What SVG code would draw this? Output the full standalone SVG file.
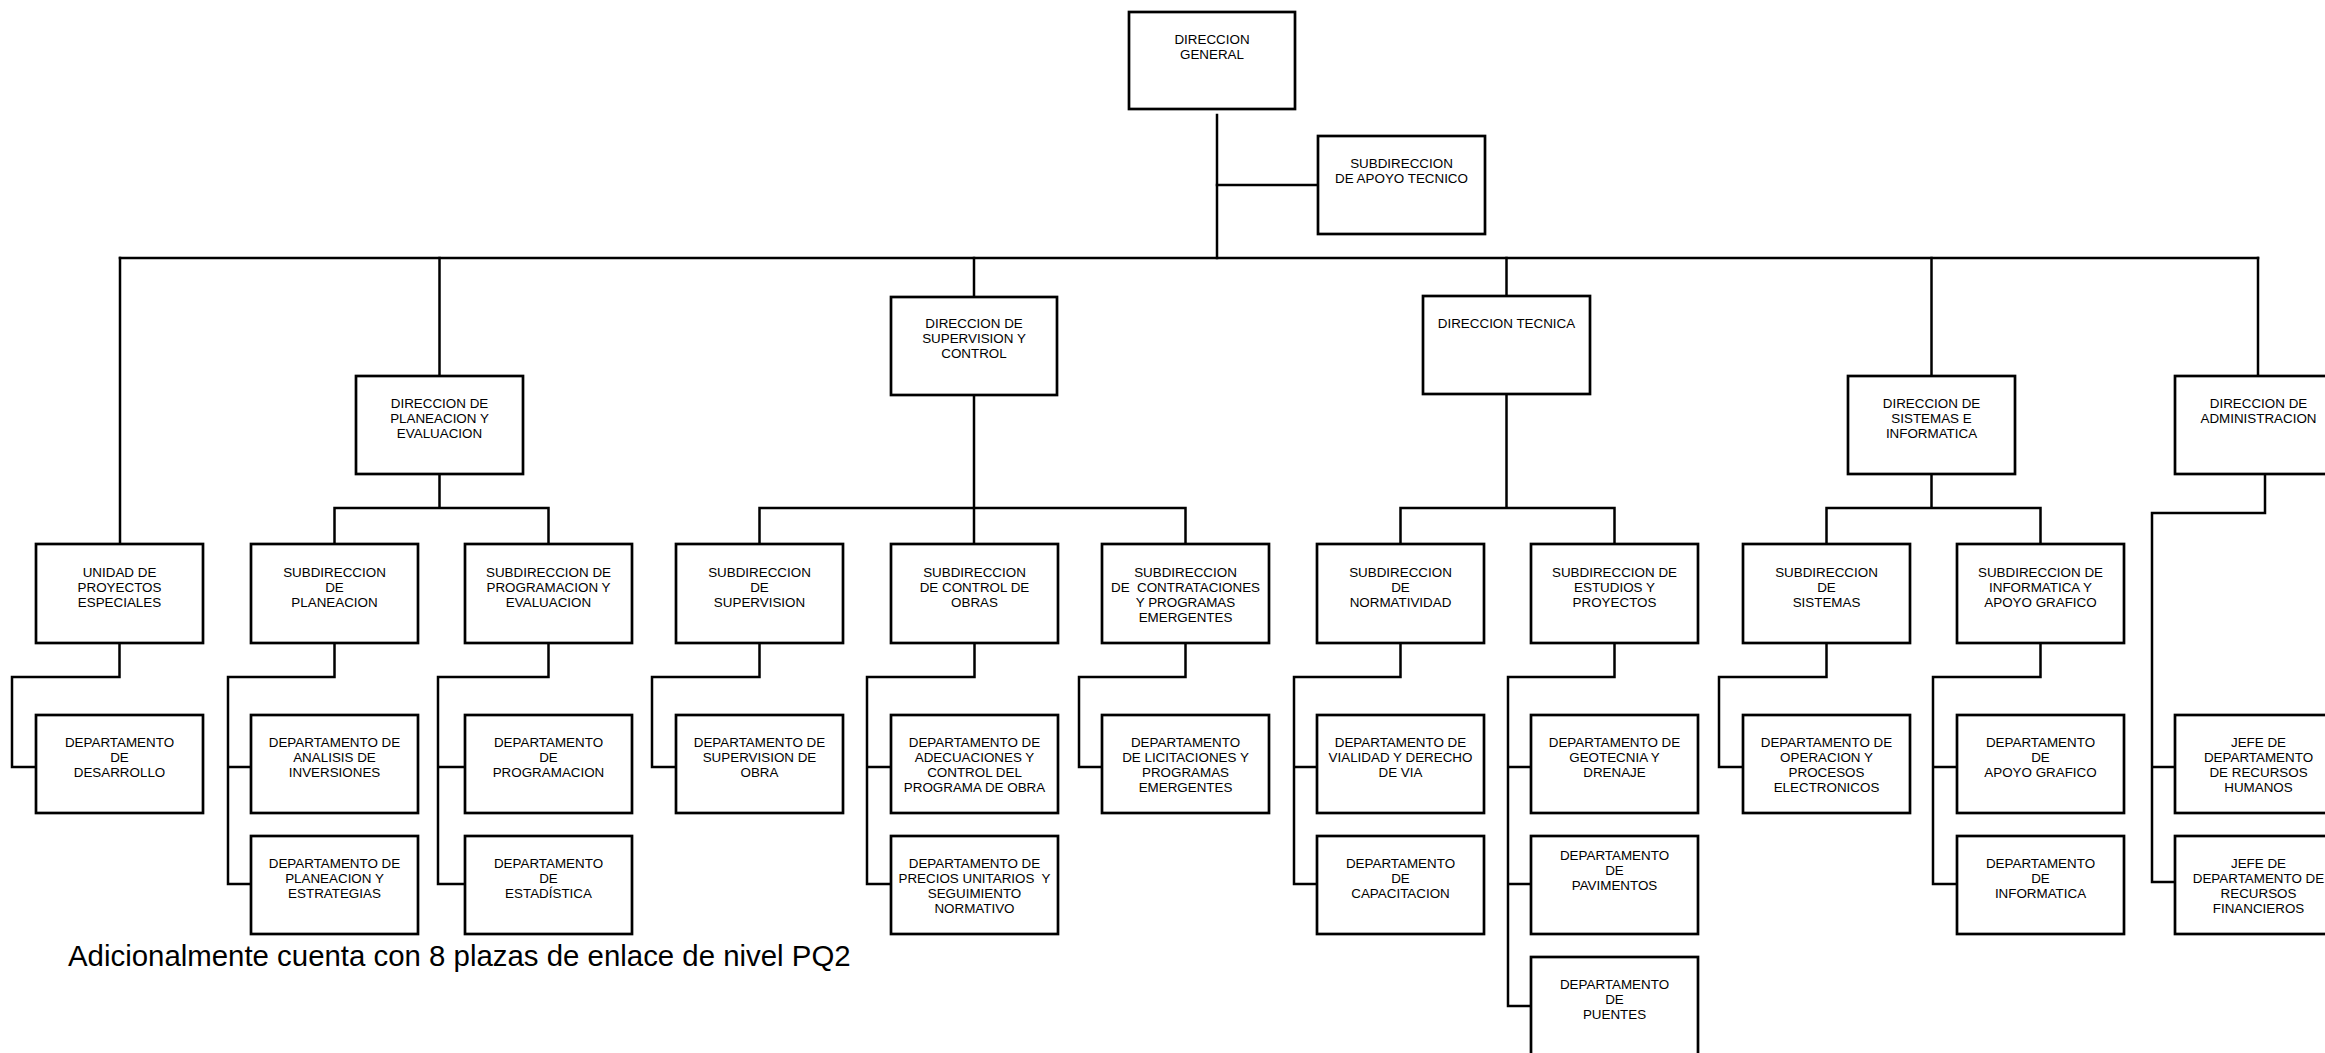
<svg xmlns="http://www.w3.org/2000/svg" width="2325" height="1053" viewBox="0 0 2325 1053">
<style>
  .box { fill: #ffffff; stroke: #000000; stroke-width: 2.7; }
  .lbl { font-family: "Liberation Sans", Arial, sans-serif; font-size: 13.4px; fill: #000000; text-anchor: middle; }
  .note { font-family: "Liberation Sans", Arial, sans-serif; font-size: 29.4px; fill: #000000; }
  .conn { fill: none; stroke: #000000; stroke-width: 2.5; stroke-linejoin: miter; stroke-linecap: square; }
</style>
<rect width="2325" height="1053" fill="#ffffff"/>

<g id="connectors">
  <path class="conn" d="M1217,115 V258"/>
  <path class="conn" d="M1217,185 H1318"/>
  <path class="conn" d="M120,258 H2258"/>
  <path class="conn" d="M120,258 V544"/>
  <path class="conn" d="M439.5,258 V376"/>
  <path class="conn" d="M974,258 V297"/>
  <path class="conn" d="M1506.5,258 V296"/>
  <path class="conn" d="M1931.5,258 V376"/>
  <path class="conn" d="M2258,258 V376"/>
  <path class="conn" d="M439.5,474 V508 M334.5,544 V508 H548.5 V544"/>
  <path class="conn" d="M974,395 V544 M759.5,544 V508 H1185.5 V544"/>
  <path class="conn" d="M1506.5,394 V508 M1400.5,544 V508 H1614.5 V544"/>
  <path class="conn" d="M1931.5,474 V508 M1826.5,544 V508 H2040.5 V544"/>
  <path class="conn" d="M2265,474 V513 H2152 V882 H2175 M2152,767 H2175"/>
  <path class="conn" d="M119.5,643 V677 H12 V767 H36"/>
  <path class="conn" d="M334.5,643 V677 H228 V884 H251 M228,767 H251"/>
  <path class="conn" d="M548.5,643 V677 H438 V884 H465 M438,767 H465"/>
  <path class="conn" d="M759.5,643 V677 H652 V767 H676"/>
  <path class="conn" d="M974.5,643 V677 H867 V884 H891 M867,767 H891"/>
  <path class="conn" d="M1185.5,643 V677 H1079 V767 H1102"/>
  <path class="conn" d="M1400.5,643 V677 H1294 V884 H1317 M1294,767 H1317"/>
  <path class="conn" d="M1614.5,643 V677 H1508 V1006 H1531 M1508,767 H1531 M1508,884 H1531"/>
  <path class="conn" d="M1826.5,643 V677 H1719 V767 H1743"/>
  <path class="conn" d="M2040.5,643 V677 H1933 V884 H1957 M1933,767 H1957"/>
</g>

<g id="direccion-general">
  <rect class="box" x="1129" y="12" width="166" height="97"/>
  <text class="lbl" x="1212" y="44"><tspan x="1212">DIRECCION</tspan><tspan x="1212" dy="15">GENERAL</tspan></text>
</g>
<g id="subdireccion-apoyo-tecnico">
  <rect class="box" x="1318" y="136" width="167" height="98"/>
  <text class="lbl" x="1401.5" y="168"><tspan x="1401.5">SUBDIRECCION</tspan><tspan x="1401.5" dy="15">DE APOYO TECNICO</tspan></text>
</g>
<g id="direccion-planeacion">
  <rect class="box" x="356" y="376" width="167" height="98"/>
  <text class="lbl" x="439.5" y="408"><tspan x="439.5">DIRECCION DE</tspan><tspan x="439.5" dy="15">PLANEACION Y</tspan><tspan x="439.5" dy="15">EVALUACION</tspan></text>
</g>
<g id="direccion-supervision">
  <rect class="box" x="891" y="297" width="166" height="98"/>
  <text class="lbl" x="974" y="328"><tspan x="974">DIRECCION DE</tspan><tspan x="974" dy="15">SUPERVISION Y</tspan><tspan x="974" dy="15">CONTROL</tspan></text>
</g>
<g id="direccion-tecnica">
  <rect class="box" x="1423" y="296" width="167" height="98"/>
  <text class="lbl" x="1506.5" y="328">DIRECCION TECNICA</text>
</g>
<g id="direccion-sistemas">
  <rect class="box" x="1848" y="376" width="167" height="98"/>
  <text class="lbl" x="1931.5" y="408"><tspan x="1931.5">DIRECCION DE</tspan><tspan x="1931.5" dy="15">SISTEMAS E</tspan><tspan x="1931.5" dy="15">INFORMATICA</tspan></text>
</g>
<g id="direccion-administracion">
  <rect class="box" x="2175" y="376" width="167" height="98"/>
  <text class="lbl" x="2258.5" y="408"><tspan x="2258.5">DIRECCION DE</tspan><tspan x="2258.5" dy="15">ADMINISTRACION</tspan></text>
</g>

<g id="unidad-proyectos-especiales">
  <rect class="box" x="36" y="544" width="167" height="99"/>
  <text class="lbl" x="119.5" y="577"><tspan x="119.5">UNIDAD DE</tspan><tspan x="119.5" dy="15">PROYECTOS</tspan><tspan x="119.5" dy="15">ESPECIALES</tspan></text>
</g>
<g id="subdireccion-planeacion">
  <rect class="box" x="251" y="544" width="167" height="99"/>
  <text class="lbl" x="334.5" y="577"><tspan x="334.5">SUBDIRECCION</tspan><tspan x="334.5" dy="15">DE</tspan><tspan x="334.5" dy="15">PLANEACION</tspan></text>
</g>
<g id="subdireccion-programacion">
  <rect class="box" x="465" y="544" width="167" height="99"/>
  <text class="lbl" x="548.5" y="577"><tspan x="548.5">SUBDIRECCION DE</tspan><tspan x="548.5" dy="15">PROGRAMACION Y</tspan><tspan x="548.5" dy="15">EVALUACION</tspan></text>
</g>
<g id="subdireccion-supervision">
  <rect class="box" x="676" y="544" width="167" height="99"/>
  <text class="lbl" x="759.5" y="577"><tspan x="759.5">SUBDIRECCION</tspan><tspan x="759.5" dy="15">DE</tspan><tspan x="759.5" dy="15">SUPERVISION</tspan></text>
</g>
<g id="subdireccion-control-obras">
  <rect class="box" x="891" y="544" width="167" height="99"/>
  <text class="lbl" x="974.5" y="577"><tspan x="974.5">SUBDIRECCION</tspan><tspan x="974.5" dy="15">DE CONTROL DE</tspan><tspan x="974.5" dy="15">OBRAS</tspan></text>
</g>
<g id="subdireccion-contrataciones">
  <rect class="box" x="1102" y="544" width="167" height="99"/>
  <text class="lbl" x="1185.5" y="577" xml:space="preserve"><tspan x="1185.5">SUBDIRECCION</tspan><tspan x="1185.5" dy="15">DE  CONTRATACIONES</tspan><tspan x="1185.5" dy="15">Y PROGRAMAS</tspan><tspan x="1185.5" dy="15">EMERGENTES</tspan></text>
</g>
<g id="subdireccion-normatividad">
  <rect class="box" x="1317" y="544" width="167" height="99"/>
  <text class="lbl" x="1400.5" y="577"><tspan x="1400.5">SUBDIRECCION</tspan><tspan x="1400.5" dy="15">DE</tspan><tspan x="1400.5" dy="15">NORMATIVIDAD</tspan></text>
</g>
<g id="subdireccion-estudios">
  <rect class="box" x="1531" y="544" width="167" height="99"/>
  <text class="lbl" x="1614.5" y="577"><tspan x="1614.5">SUBDIRECCION DE</tspan><tspan x="1614.5" dy="15">ESTUDIOS Y</tspan><tspan x="1614.5" dy="15">PROYECTOS</tspan></text>
</g>
<g id="subdireccion-sistemas">
  <rect class="box" x="1743" y="544" width="167" height="99"/>
  <text class="lbl" x="1826.5" y="577"><tspan x="1826.5">SUBDIRECCION</tspan><tspan x="1826.5" dy="15">DE</tspan><tspan x="1826.5" dy="15">SISTEMAS</tspan></text>
</g>
<g id="subdireccion-informatica">
  <rect class="box" x="1957" y="544" width="167" height="99"/>
  <text class="lbl" x="2040.5" y="577"><tspan x="2040.5">SUBDIRECCION DE</tspan><tspan x="2040.5" dy="15">INFORMATICA Y</tspan><tspan x="2040.5" dy="15">APOYO GRAFICO</tspan></text>
</g>

<g id="depto-desarrollo">
  <rect class="box" x="36" y="715" width="167" height="98"/>
  <text class="lbl" x="119.5" y="747"><tspan x="119.5">DEPARTAMENTO</tspan><tspan x="119.5" dy="15">DE</tspan><tspan x="119.5" dy="15">DESARROLLO</tspan></text>
</g>
<g id="depto-analisis-inversiones">
  <rect class="box" x="251" y="715" width="167" height="98"/>
  <text class="lbl" x="334.5" y="747"><tspan x="334.5">DEPARTAMENTO DE</tspan><tspan x="334.5" dy="15">ANALISIS DE</tspan><tspan x="334.5" dy="15">INVERSIONES</tspan></text>
</g>
<g id="depto-planeacion-estrategias">
  <rect class="box" x="251" y="836" width="167" height="98"/>
  <text class="lbl" x="334.5" y="868"><tspan x="334.5">DEPARTAMENTO DE</tspan><tspan x="334.5" dy="15">PLANEACION Y</tspan><tspan x="334.5" dy="15">ESTRATEGIAS</tspan></text>
</g>
<g id="depto-programacion">
  <rect class="box" x="465" y="715" width="167" height="98"/>
  <text class="lbl" x="548.5" y="747"><tspan x="548.5">DEPARTAMENTO</tspan><tspan x="548.5" dy="15">DE</tspan><tspan x="548.5" dy="15">PROGRAMACION</tspan></text>
</g>
<g id="depto-estadistica">
  <rect class="box" x="465" y="836" width="167" height="98"/>
  <text class="lbl" x="548.5" y="868"><tspan x="548.5">DEPARTAMENTO</tspan><tspan x="548.5" dy="15">DE</tspan><tspan x="548.5" dy="15">ESTADÍSTICA</tspan></text>
</g>
<g id="depto-supervision-obra">
  <rect class="box" x="676" y="715" width="167" height="98"/>
  <text class="lbl" x="759.5" y="747"><tspan x="759.5">DEPARTAMENTO DE</tspan><tspan x="759.5" dy="15">SUPERVISION DE</tspan><tspan x="759.5" dy="15">OBRA</tspan></text>
</g>
<g id="depto-adecuaciones">
  <rect class="box" x="891" y="715" width="167" height="98"/>
  <text class="lbl" x="974.5" y="747"><tspan x="974.5">DEPARTAMENTO DE</tspan><tspan x="974.5" dy="15">ADECUACIONES Y</tspan><tspan x="974.5" dy="15">CONTROL DEL</tspan><tspan x="974.5" dy="15">PROGRAMA DE OBRA</tspan></text>
</g>
<g id="depto-precios-unitarios">
  <rect class="box" x="891" y="836" width="167" height="98"/>
  <text class="lbl" x="974.5" y="868" xml:space="preserve"><tspan x="974.5">DEPARTAMENTO DE</tspan><tspan x="974.5" dy="15">PRECIOS UNITARIOS  Y</tspan><tspan x="974.5" dy="15">SEGUIMIENTO</tspan><tspan x="974.5" dy="15">NORMATIVO</tspan></text>
</g>
<g id="depto-licitaciones">
  <rect class="box" x="1102" y="715" width="167" height="98"/>
  <text class="lbl" x="1185.5" y="747"><tspan x="1185.5">DEPARTAMENTO</tspan><tspan x="1185.5" dy="15">DE LICITACIONES Y</tspan><tspan x="1185.5" dy="15">PROGRAMAS</tspan><tspan x="1185.5" dy="15">EMERGENTES</tspan></text>
</g>
<g id="depto-vialidad">
  <rect class="box" x="1317" y="715" width="167" height="98"/>
  <text class="lbl" x="1400.5" y="747"><tspan x="1400.5">DEPARTAMENTO DE</tspan><tspan x="1400.5" dy="15">VIALIDAD Y DERECHO</tspan><tspan x="1400.5" dy="15">DE VIA</tspan></text>
</g>
<g id="depto-capacitacion">
  <rect class="box" x="1317" y="836" width="167" height="98"/>
  <text class="lbl" x="1400.5" y="868"><tspan x="1400.5">DEPARTAMENTO</tspan><tspan x="1400.5" dy="15">DE</tspan><tspan x="1400.5" dy="15">CAPACITACION</tspan></text>
</g>
<g id="depto-geotecnia">
  <rect class="box" x="1531" y="715" width="167" height="98"/>
  <text class="lbl" x="1614.5" y="747"><tspan x="1614.5">DEPARTAMENTO DE</tspan><tspan x="1614.5" dy="15">GEOTECNIA Y</tspan><tspan x="1614.5" dy="15">DRENAJE</tspan></text>
</g>
<g id="depto-pavimentos">
  <rect class="box" x="1531" y="836" width="167" height="98"/>
  <text class="lbl" x="1614.5" y="860"><tspan x="1614.5">DEPARTAMENTO</tspan><tspan x="1614.5" dy="15">DE</tspan><tspan x="1614.5" dy="15">PAVIMENTOS</tspan></text>
</g>
<g id="depto-puentes">
  <rect class="box" x="1531" y="957" width="167" height="98"/>
  <text class="lbl" x="1614.5" y="989"><tspan x="1614.5">DEPARTAMENTO</tspan><tspan x="1614.5" dy="15">DE</tspan><tspan x="1614.5" dy="15">PUENTES</tspan></text>
</g>
<g id="depto-operacion">
  <rect class="box" x="1743" y="715" width="167" height="98"/>
  <text class="lbl" x="1826.5" y="747"><tspan x="1826.5">DEPARTAMENTO DE</tspan><tspan x="1826.5" dy="15">OPERACION Y</tspan><tspan x="1826.5" dy="15">PROCESOS</tspan><tspan x="1826.5" dy="15">ELECTRONICOS</tspan></text>
</g>
<g id="depto-apoyo-grafico">
  <rect class="box" x="1957" y="715" width="167" height="98"/>
  <text class="lbl" x="2040.5" y="747"><tspan x="2040.5">DEPARTAMENTO</tspan><tspan x="2040.5" dy="15">DE</tspan><tspan x="2040.5" dy="15">APOYO GRAFICO</tspan></text>
</g>
<g id="depto-informatica">
  <rect class="box" x="1957" y="836" width="167" height="98"/>
  <text class="lbl" x="2040.5" y="868"><tspan x="2040.5">DEPARTAMENTO</tspan><tspan x="2040.5" dy="15">DE</tspan><tspan x="2040.5" dy="15">INFORMATICA</tspan></text>
</g>
<g id="jefe-recursos-humanos">
  <rect class="box" x="2175" y="715" width="167" height="98"/>
  <text class="lbl" x="2258.5" y="747"><tspan x="2258.5">JEFE DE</tspan><tspan x="2258.5" dy="15">DEPARTAMENTO</tspan><tspan x="2258.5" dy="15">DE RECURSOS</tspan><tspan x="2258.5" dy="15">HUMANOS</tspan></text>
</g>
<g id="jefe-recursos-financieros">
  <rect class="box" x="2175" y="836" width="167" height="98"/>
  <text class="lbl" x="2258.5" y="868"><tspan x="2258.5">JEFE DE</tspan><tspan x="2258.5" dy="15">DEPARTAMENTO DE</tspan><tspan x="2258.5" dy="15">RECURSOS</tspan><tspan x="2258.5" dy="15">FINANCIEROS</tspan></text>
</g>

<text class="note" x="68" y="966">Adicionalmente cuenta con 8 plazas de enlace de nivel PQ2</text>
</svg>
